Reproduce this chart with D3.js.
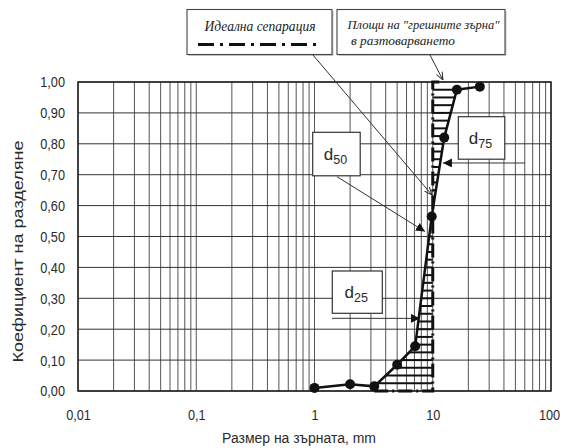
<!DOCTYPE html>
<html lang="bg">
<head>
    <meta charset="UTF-8">
    <title>Коефициент на разделяне</title>
    <script src="https://d3js.org/d3.v7.min.js"></script>
    <style>
        body { margin: 0; background: white; }
        text {
            font-family: 'Liberation Sans', Arial, sans-serif;
            fill: #2a2a2a;
        }
        .note text {
            font-family: 'Liberation Serif', 'DejaVu Serif', serif;
            font-style: italic;
            fill: #222;
        }
    </style>
</head>
<body>
<script>
    const width = 565;
    const height = 448;
    const margin = {top: 82, right: 14, bottom: 57, left: 78};

    // размер на зърната, mm  /  коефициент на разделяне
    const sizes = [1, 2, 3.2, 5, 7.1, 9.8, 12.5, 16, 25];
    const coef = [0.01, 0.022, 0.015, 0.085, 0.145, 0.565, 0.82, 0.975, 0.985];

    const xTicks = [0.01, 0.1, 1, 10, 100];
    const xTickLabels = ["0,01", "0,1", "1", "10", "100"];
    const yTicks = [0, 0.1, 0.2, 0.3, 0.4, 0.5, 0.6, 0.7, 0.8, 0.9, 1];
    const yTickLabels = ["0,00", "0,10", "0,20", "0,30", "0,40", "0,50", "0,60", "0,70", "0,80", "0,90", "1,00"];

    // идеална сепарация при 10 mm
    const cutSize = 10;
    const hatchLevels = d3.range(0.025, 0.99, 0.025);

    const svg = d3.select("body").append("svg").attr("width", width).attr("height", height);

    const x = d3.scaleLog().domain([0.01, 100]).range([margin.left, width - margin.right]);
    const y = d3.scaleLinear().domain([0, 1]).range([height - margin.bottom, margin.top]);

    // narrow look of the original font
    function squeeze(sel, k) {
        sel.each(function () {
            const w = this.getComputedTextLength();
            d3.select(this).attr("textLength", w * k).attr("lengthAdjust", "spacingAndGlyphs");
        });
    }

    const defs = svg.append("defs");
    defs.append("marker")
        .attr("id", "tri")
        .attr("viewBox", "0 0 10 10")
        .attr("refX", 10).attr("refY", 5)
        .attr("markerWidth", 9).attr("markerHeight", 9)
        .attr("markerUnits", "userSpaceOnUse")
        .attr("orient", "auto")
        .append("path").attr("d", "M0,0L10,5L0,10Z").attr("fill", "#111");
    defs.append("marker")
        .attr("id", "open")
        .attr("viewBox", "0 0 10 10")
        .attr("refX", 10).attr("refY", 5)
        .attr("markerWidth", 8).attr("markerHeight", 8)
        .attr("markerUnits", "userSpaceOnUse")
        .attr("orient", "auto")
        .append("path").attr("d", "M0,1L10,5L0,9").attr("fill", "none").attr("stroke", "#222").attr("stroke-width", 1.2);

    // grid
    const grid = svg.append("g");
    grid.selectAll(".vx")
        .data(x.ticks())
        .enter()
        .append("line")
        .attr("x1", d => x(d)).attr("x2", d => x(d))
        .attr("y1", y(0)).attr("y2", y(1))
        .style("stroke", "#555")
        .style("stroke-width", 1);
    grid.selectAll(".hy")
        .data(yTicks)
        .enter()
        .append("line")
        .attr("x1", x(0.01)).attr("x2", x(100))
        .attr("y1", d => y(d)).attr("y2", d => y(d))
        .style("stroke", "#333")
        .style("stroke-width", 1);

    svg.append("rect")
        .attr("x", x(0.01)).attr("y", y(1))
        .attr("width", x(100) - x(0.01)).attr("height", y(0) - y(1))
        .style("fill", "none")
        .style("stroke", "#222")
        .style("stroke-width", 1.5);

    // axes
    const xAxis = svg.append("g")
        .attr("transform", `translate(0,${y(0)})`)
        .call(d3.axisBottom(x).tickValues(xTicks).tickSize(0).tickPadding(18)
            .tickFormat((d, i) => xTickLabels[i]));
    const yAxis = svg.append("g")
        .attr("transform", `translate(${x(0.01)},0)`)
        .call(d3.axisLeft(y).tickValues(yTicks).tickSize(0).tickPadding(13)
            .tickFormat((d, i) => yTickLabels[i]));
    [xAxis, yAxis].forEach(a => {
        a.select(".domain").remove();
        a.selectAll("text").style("font-size", "15.5px").style("fill", "#2a2a2a")
            .style("font-family", "'Liberation Sans', Arial, sans-serif");
        squeeze(a.selectAll("text"), 0.82);
    });
    // keep the last label inside the page
    xAxis.selectAll(".tick:last-of-type text").attr("x", -2);

    svg.append("text")
        .attr("x", 299)
        .attr("y", 443)
        .attr("text-anchor", "middle")
        .style("font-size", "15.5px")
        .text("Размер на зърната, mm")
        .call(squeeze, 0.9);

    svg.append("text")
        .attr("transform", `translate(23,${(y(0) + y(1)) / 2 + 15}) rotate(-90)`)
        .attr("text-anchor", "middle")
        .style("font-size", "15.5px")
        .text("Коефициент на разделяне")
        .attr("textLength", 222).attr("lengthAdjust", "spacingAndGlyphs");

    // hatch between curve and ideal separation line
    const pts = sizes.map((s, i) => [x(s), y(coef[i])]);
    function curveX(v) {
        const py = y(v);
        for (let i = 2; i < pts.length - 1; i++) {
            const a = pts[i], b = pts[i + 1];
            if ((py <= a[1] && py >= b[1]) || (py >= a[1] && py <= b[1])) {
                const t = (py - a[1]) / (b[1] - a[1]);
                return a[0] + t * (b[0] - a[0]);
            }
        }
        return null;
    }
    svg.append("g").selectAll("line")
        .data(hatchLevels.filter(v => curveX(v) !== null))
        .enter()
        .append("line")
        .attr("x1", d => curveX(d))
        .attr("x2", x(cutSize))
        .attr("y1", d => y(d)).attr("y2", d => y(d))
        .style("stroke", "#111")
        .style("stroke-width", 2);

    // ideal separation (dash-dot)
    const ideal = [[x(3.2), y(0)], [x(cutSize), y(0)], [x(cutSize), y(1)], [x(12), y(1)]];
    svg.append("path")
        .attr("d", d3.line()(ideal))
        .style("fill", "none")
        .style("stroke", "#111")
        .style("stroke-width", 3)
        .style("stroke-dasharray", "14,4,2,4");

    // separation curve
    svg.append("path")
        .attr("d", d3.line()(pts))
        .style("fill", "none")
        .style("stroke", "#111")
        .style("stroke-width", 2.5);
    svg.append("g").selectAll("circle")
        .data(pts)
        .enter()
        .append("circle")
        .attr("cx", d => d[0]).attr("cy", d => d[1])
        .attr("r", 5)
        .style("fill", "#111");

    // callouts
    const notes = svg.append("g").attr("class", "note");
    function box(g, x0, y0, w, h) {
        g.append("rect").attr("x", x0 + 1.5).attr("y", y0 + 1.5).attr("width", w).attr("height", h)
            .style("fill", "#c8c8c8");
        g.append("rect").attr("x", x0).attr("y", y0).attr("width", w).attr("height", h)
            .style("fill", "white").style("stroke", "#444").style("stroke-width", 1.1);
    }
    function arrow(x0, y0, tx, ty, head) {
        svg.append("line")
            .attr("x1", x0).attr("y1", y0)
            .attr("x2", x(tx)).attr("y2", y(ty))
            .style("stroke", "#333").style("stroke-width", 1)
            .attr("marker-end", `url(#${head})`);
    }

    arrow(313, 55, 9.86, 0.634, "open");
    arrow(430, 55, 12.2, 1.006, "open");

    const b1 = notes.append("g");
    box(b1, 187, 9.5, 145, 45);
    b1.append("text").attr("x", 260).attr("y", 30.5).attr("text-anchor", "middle")
        .attr("textLength", 111).attr("lengthAdjust", "spacingAndGlyphs")
        .style("font-size", "14px").text("Идеална сепарация");
    b1.append("line").attr("x1", 198).attr("x2", 318).attr("y1", 44.5).attr("y2", 44.5)
        .style("stroke", "#111").style("stroke-width", 3).style("stroke-dasharray", "16,6,3,6");

    const b2 = notes.append("g");
    box(b2, 337, 9.5, 168, 45);
    b2.append("text").attr("x", 347.5).attr("y", 29)
        .attr("textLength", 152).attr("lengthAdjust", "spacingAndGlyphs")
        .style("font-size", "13.5px").text("Площи на \"грешните зърна\"");
    b2.append("text").attr("x", 351).attr("y", 45)
        .attr("textLength", 104).attr("lengthAdjust", "spacingAndGlyphs")
        .style("font-size", "13.5px").text("в разтоварването");

    const dBoxes = [
        {label: "50", x0: 312.7, y0: 132.3, w: 47.5, h: 43.5},
        {label: "75", x0: 458.3, y0: 116.7, w: 46.5, h: 42.5},
        {label: "25", x0: 332.3, y0: 271, w: 50, h: 42.3}
    ];
    dBoxes.forEach(b => {
        const g = svg.append("g");
        g.append("rect").attr("x", b.x0).attr("y", b.y0).attr("width", b.w).attr("height", b.h)
            .style("fill", "white").style("stroke", "#333").style("stroke-width", 1.2);
        const t = g.append("text").attr("x", b.x0 + b.w / 2 - 1).attr("y", b.y0 + b.h / 2 + 6)
            .attr("text-anchor", "middle").style("font-size", "17px");
        t.append("tspan").text("d");
        t.append("tspan").attr("dy", 4).style("font-size", "12.5px").text(b.label);
    });

    arrow(337, 176.7, 8.6, 0.516, "tri");
    arrow(525, 163, 12.2, 0.738, "tri");
    arrow(332, 318.3, 7.8, 0.235, "tri");
</script>
</body>
</html>
